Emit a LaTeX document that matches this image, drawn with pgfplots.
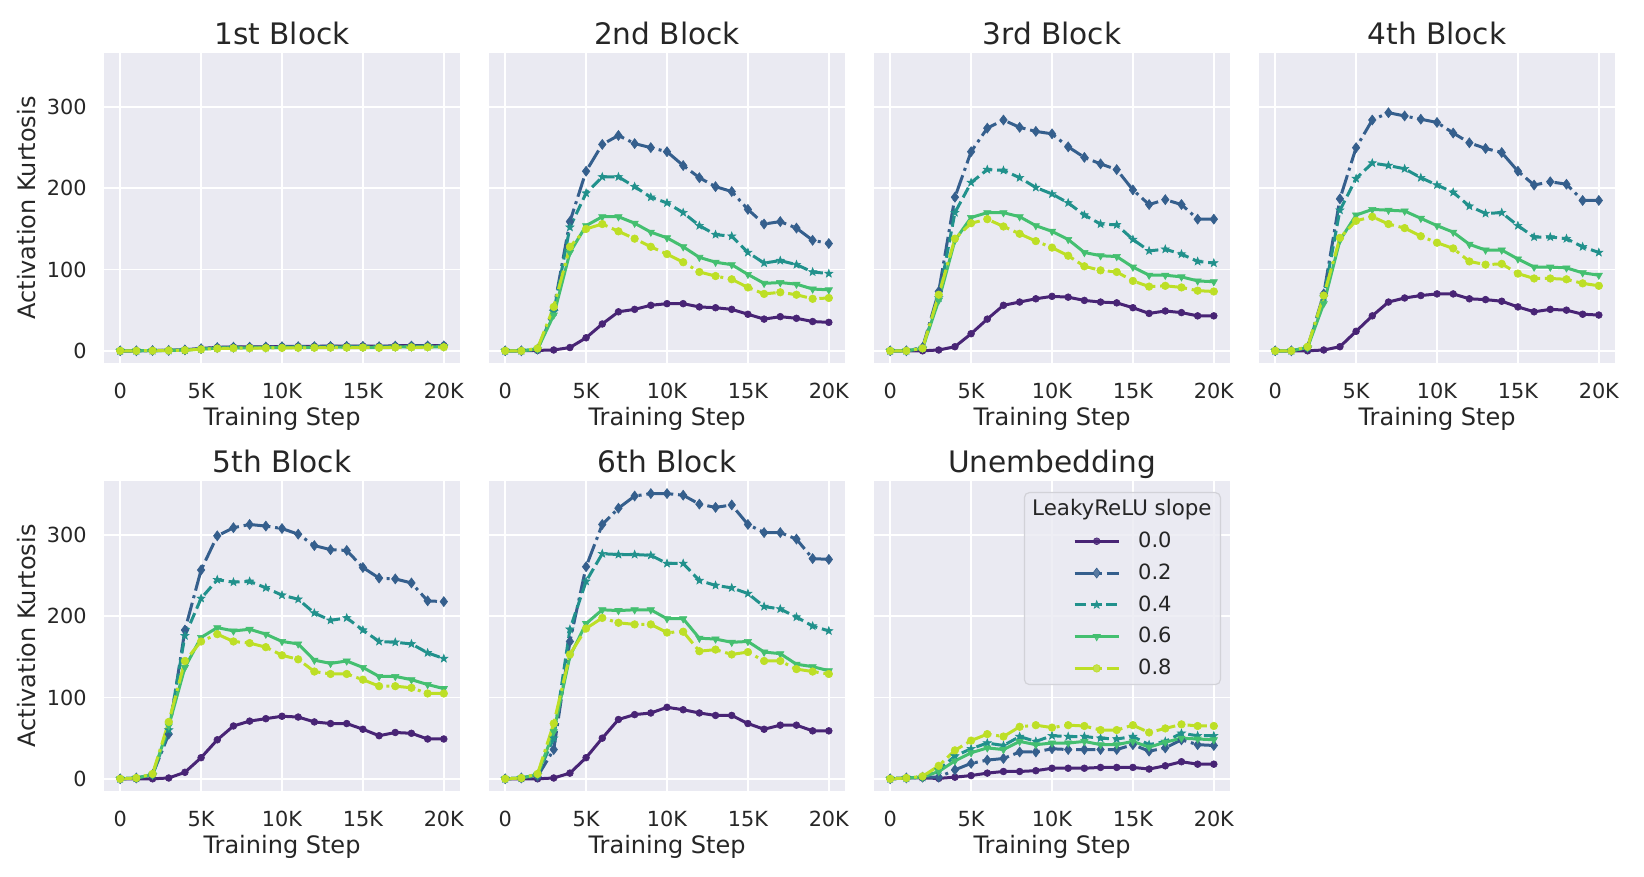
\documentclass[border=0pt]{standalone}
\usepackage{fontspec}
\setmainfont{DejaVu Sans}
\usepackage{pgfplots}
\usepackage{pgfplotstable}
\pgfplotsset{compat=1.18}
\definecolor{bg}{HTML}{EAEAF2}
\definecolor{txt}{HTML}{262626}
\definecolor{legborder}{HTML}{D2D2D8}
\definecolor{c0}{HTML}{482475}
\definecolor{c2}{HTML}{355F8D}
\definecolor{c4}{HTML}{21918C}
\definecolor{c6}{HTML}{44BF70}
\definecolor{c8}{HTML}{BDDF26}

\pgfdeclareplotmark{fstar}{%
  \pgfpathmoveto{\pgfpointpolar{90}{\pgfplotmarksize}}%
  \pgfpathlineto{\pgfpointpolar{126}{0.42\pgfplotmarksize}}%
  \pgfpathlineto{\pgfpointpolar{162}{\pgfplotmarksize}}%
  \pgfpathlineto{\pgfpointpolar{198}{0.42\pgfplotmarksize}}%
  \pgfpathlineto{\pgfpointpolar{234}{\pgfplotmarksize}}%
  \pgfpathlineto{\pgfpointpolar{270}{0.42\pgfplotmarksize}}%
  \pgfpathlineto{\pgfpointpolar{306}{\pgfplotmarksize}}%
  \pgfpathlineto{\pgfpointpolar{342}{0.42\pgfplotmarksize}}%
  \pgfpathlineto{\pgfpointpolar{18}{\pgfplotmarksize}}%
  \pgfpathlineto{\pgfpointpolar{54}{0.42\pgfplotmarksize}}%
  \pgfpathclose
  \pgfusepathqfillstroke}

% x in thousands of steps
\pgfplotstableread{
x s0 s2 s4 s6 s8
0 0 0 0 0 0
1 0 0 0 0 0
2 0.3 0.3 0.2 0.2 0.2
3 0.6 0.5 0.5 0.4 0.4
4 1.2 1.1 1.0 0.9 0.8
5 2.8 2.6 2.3 2.0 1.8
6 4.2 4.0 3.6 3.2 2.8
7 4.8 4.5 4.0 3.6 3.2
8 4.8 4.5 4.1 3.7 3.3
9 5.0 4.7 4.2 3.8 3.4
10 5.3 5.0 4.5 4.0 3.6
11 5.4 5.1 4.6 4.1 3.7
12 5.5 5.2 4.7 4.2 3.8
13 5.8 5.4 4.9 4.4 3.9
14 5.9 5.5 5.0 4.5 4.0
15 5.9 5.5 5.0 4.5 4.0
16 5.5 5.1 4.7 4.2 3.8
17 6.2 5.8 5.2 4.7 4.2
18 6.3 5.9 5.3 4.8 4.3
19 6.4 6.0 5.4 4.9 4.4
20 6.5 6.1 5.5 5.0 4.5
}\tA
\pgfplotstableread{
x s0 s2 s4 s6 s8
0 0 0 0 0 0
1 0 0 0 0 0
2 0.5 2 2 2 3
3 1 51 48 44 54
4 4 159 152 121 128
5 16 221 194 154 150
6 33 254 214 165 156
7 48 265 214 165 147
8 51 255 202 157 138
9 56 250 189 146 128
10 58 245 182 139 119
11 58 228 170 128 109
12 54 213 154 115 97
13 53 202 143 109 92
14 51 196 141 106 88
15 45 174 121 94 78
16 39 156 108 83 70
17 42 159 111 84 72
18 40 151 106 82 69
19 36 136 97 76 64
20 35 132 95 75 65
}\tB
\pgfplotstableread{
x s0 s2 s4 s6 s8
0 0 0 0 0 0
1 0 0 0 0 0
2 0 4 3 3 3
3 1 73 65 62 69
4 5 189 170 136 138
5 21 245 207 164 157
6 39 274 223 170 162
7 56 284 222 170 153
8 60 275 213 165 144
9 64 270 201 154 135
10 67 267 193 147 127
11 66 251 182 137 117
12 62 238 167 121 104
13 60 230 156 117 99
14 59 223 155 116 97
15 53 198 137 103 86
16 46 180 123 93 79
17 49 186 125 93 80
18 47 180 119 91 78
19 43 162 110 86 74
20 43 162 108 85 73
}\tC
\pgfplotstableread{
x s0 s2 s4 s6 s8
0 0 0 0 0 0
1 0 0 0 0 0
2 0 4 4 4 5
3 1 70 66 58 68
4 5 187 173 136 139
5 24 250 212 167 160
6 43 284 231 174 165
7 60 293 228 173 156
8 65 289 224 172 151
9 68 285 213 163 141
10 70 281 204 154 133
11 70 268 195 146 126
12 64 256 178 131 110
13 63 249 169 124 106
14 61 244 170 124 107
15 54 221 154 113 95
16 48 204 140 103 89
17 51 208 140 103 89
18 50 205 138 102 88
19 45 185 128 96 83
20 44 185 121 93 80
}\tD
\pgfplotstableread{
x s0 s2 s4 s6 s8
0 0 0 0 0 0
1 0 1 1 1 1
2 0 5 5 5 6
3 1 55 60 65 70
4 8 183 176 137 145
5 26 257 222 174 169
6 48 299 245 186 178
7 65 309 242 182 169
8 71 313 243 184 167
9 74 311 235 178 162
10 77 308 226 169 152
11 76 301 221 166 147
12 70 287 204 146 132
13 68 282 195 142 129
14 68 281 198 145 129
15 61 260 183 137 122
16 53 247 169 126 114
17 57 246 168 126 114
18 56 241 166 122 112
19 49 219 155 116 105
20 49 218 148 111 105
}\tE
\pgfplotstableread{
x s0 s2 s4 s6 s8
0 0 0 0 0 0
1 0 1 1 1 1
2 0 3 5 5 6
3 1 36 50 58 68
4 7 169 184 151 153
5 26 261 243 191 185
6 50 313 277 208 198
7 73 333 276 207 192
8 79 348 276 208 190
9 81 351 275 208 190
10 88 351 265 197 180
11 85 349 265 197 181
12 81 338 244 173 157
13 78 334 238 172 159
14 78 337 235 168 153
15 68 313 228 169 156
16 61 303 212 156 145
17 66 303 209 154 145
18 66 295 199 141 135
19 59 271 188 138 132
20 59 270 182 133 129
}\tF
\pgfplotstableread{
x s0 s2 s4 s6 s8
0 0 0 0 0 0
1 1 1 1 1 1
2 1 2 2 2 3
3 0.5 2 11 9 16
4 2 11 28 22 35
5 4 19 37 32 47
6 7 23 44 38 55
7 9 25 41 36 52
8 9 33 52 46 64
9 10 33 46 42 66
10 13 37 53 44 63
11 13 36 52 44 66
12 13 36 52 46 65
13 14 36 50 42 60
14 14 36 49 42 60
15 14 42 52 46 66
16 12 34 42 39 57
17 16 38 46 45 62
18 21 48 56 50 67
19 18 42 53 49 65
20 18 41 53 48 65
}\tG

\pgfplotsset{
  panel/.style={
    scale only axis, width=178pt, height=155pt,
    anchor=south west,
    xmin=-1, xmax=21, ymin=-15, ymax=366.5,
    xtick={0,5,10,15,20}, xticklabels={0,5K,10K,15K,20K},
    ytick={0,100,200,300}, yticklabels={},
    axis background/.style={fill=bg},
    axis line style={draw=none},
    major tick length=0pt,
    grid=major, major grid style={white, line width=0.9pt},
    tick label style={font=\fontsize{10.4}{12}\selectfont, text=txt, inner sep=0pt},
    xticklabel shift=10pt, yticklabel shift=8.5pt,
    xlabel={Training Step},
    xlabel style={font=\fontsize{12}{14}\selectfont, text=txt, inner sep=0pt,
      at={([yshift=-22pt]axis description cs:0.5,0)}, anchor=north},
    title style={font=\fontsize{14.8}{17}\selectfont, text=txt, inner sep=0pt,
      at={([yshift=-2pt]axis description cs:0.5,1)}, anchor=base},
  },
  firstcol/.style={
    yticklabels={0,100,200,300},
    ylabel={Activation Kurtosis},
    ylabel style={font=\fontsize{12}{14}\selectfont, text=txt, inner sep=0pt,
      at={([xshift=-34pt]axis description cs:0,0.5)}, anchor=south},
  },
  s0/.style={c0, line width=1.5pt, mark=*, mark size=1.7pt,
    mark options={solid, fill=c0, draw=c0, line width=0.3pt}},
  s2/.style={c2, line width=1.5pt, dash pattern=on 9.6pt off 2.4pt on 1.5pt off 2.4pt,
    mark=diamond*, mark size=2.5pt,
    mark options={solid, fill=c2, draw=c2, line width=0.3pt}},
  s4/.style={c4, line width=1.5pt, dash pattern=on 5.5pt off 2.4pt,
    mark=fstar, mark size=2.1pt,
    mark options={solid, fill=c4, draw=c4, line width=0.3pt}},
  s6/.style={c6, line width=1.5pt, mark=triangle*, mark size=2.1pt,
    mark options={solid, rotate=180, fill=c6, draw=c6, line width=0.3pt}},
  s8/.style={c8, line width=1.5pt, dash pattern=on 9.6pt off 2.4pt on 1.5pt off 2.4pt,
    mark=*, mark size=1.9pt,
    mark options={solid, fill=c8, draw=c8, line width=0.3pt}},
}

\newcommand{\allseries}[1]{%
  \addplot[s0] table[x=x, y=s0] {#1};
  \addplot[s2] table[x=x, y=s2] {#1};
  \addplot[s4] table[x=x, y=s4] {#1};
  \addplot[s6] table[x=x, y=s6] {#1};
  \addplot[s8] table[x=x, y=s8] {#1};
}

\begin{document}
\begin{tikzpicture}
\useasboundingbox (0,0) rectangle (822pt,438.5pt);

\begin{axis}[panel, firstcol, at={(52pt,257pt)}, title={1st Block}]
\allseries{\tA}
\end{axis}
\begin{axis}[panel, at={(244.5pt,257pt)}, title={2nd Block}]
\allseries{\tB}
\end{axis}
\begin{axis}[panel, at={(437pt,257pt)}, title={3rd Block}]
\allseries{\tC}
\end{axis}
\begin{axis}[panel, at={(629.5pt,257pt)}, title={4th Block}]
\allseries{\tD}
\end{axis}

\begin{axis}[panel, firstcol, at={(52pt,43pt)}, title={5th Block}]
\allseries{\tE}
\end{axis}
\begin{axis}[panel, at={(244.5pt,43pt)}, title={6th Block}]
\allseries{\tF}
\end{axis}
\begin{axis}[panel, at={(437pt,43pt)}, title={Unembedding},
  legend cell align=left,
  legend image code/.code={\draw[sharp corners, mark repeat=2, mark phase=2]
    plot coordinates {(0pt,0pt) (11pt,0pt) (22pt,0pt)};},
  legend style={at={(1,1)}, anchor=north east, xshift=-4.5pt, yshift=-5.5pt,
    draw=legborder, line width=0.6pt, fill=bg, fill opacity=0.8, text opacity=1,
    rounded corners=2.5pt, minimum width=98pt, minimum height=96pt,
    inner sep=0pt, row sep=6.6pt, column sep=9pt,
    font=\fontsize{10.5}{12}\selectfont, text=txt,
    nodes={inner sep=0pt, minimum width=0pt, minimum height=0pt,
      fill opacity=1, rounded corners=0pt}},
]
\addlegendimage{empty legend}
\allseries{\tG}
\legend{{\fontsize{10.7}{12}\selectfont\hspace*{-53pt}LeakyReLU slope\hspace*{-21pt}}, 0.0, 0.2, 0.4, 0.6, 0.8}
\end{axis}
\end{tikzpicture}
\end{document}
